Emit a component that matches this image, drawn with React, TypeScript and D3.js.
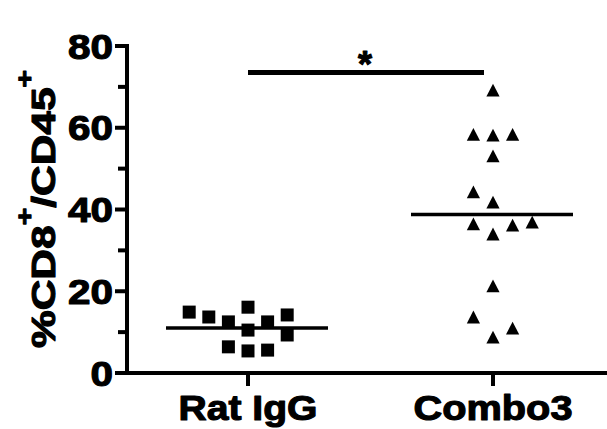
import React from "react";
import * as d3 from "d3";

const categories = ["Rat IgG", "Combo3"];
const ratIgGValues = [14.9, 13.7, 12.5, 16.1, 10.5, 12.5, 14.2, 9.3, 6.4, 5.4, 5.6];
const ratIgGSlots = [-3, -2, -1, 0, 0, 1, 2, 2, -1, 0, 1];
const combo3Values = [69.2, 58.4, 58.2, 58.4, 53.1, 44.3, 41.8, 36.5, 36.2, 36.9, 34.0, 21.3, 13.7, 11.0, 8.8];
const combo3Slots = [0, -1, 0, 1, 0, -1, 0, -1, 1, 2, 0, 0, -1, 1, 0];
const majorTicks = [0, 20, 40, 60, 80];
const minorTicks = [10, 30, 50, 70];
const yLabel = { main1: "%CD8", sup: "+", main2: "/CD45" };
const significance = "*";

const W = 607;
const H = 429;
const FONT = "'Liberation Sans', Arial, Helvetica, sans-serif";

export default function App() {
  const y = d3.scaleLinear().domain([0, 80]).range([373, 46]);
  const x = d3.scalePoint<string>().domain(categories).range([248, 493]);
  const axisX = 127;
  const slotStep = 19.6;

  const triangle = {
    draw(ctx: any, size: number) {
      const w = Math.sqrt(size);
      const h = w * 0.97;
      ctx.moveTo(0, -h / 2);
      ctx.lineTo(w / 2, h / 2);
      ctx.lineTo(-w / 2, h / 2);
      ctx.closePath();
    },
  };
  const triPath = d3.symbol().type(triangle as any).size(13.2 * 13.2)() as string;
  const sqPath = d3.symbol().type(d3.symbolSquare).size(13 * 13)() as string;

  const groups = [
    { cat: categories[0], values: ratIgGValues, slots: ratIgGSlots, path: sqPath },
    { cat: categories[1], values: combo3Values, slots: combo3Slots, path: triPath },
  ];

  const textStyle = { stroke: "#000", strokeWidth: 1.1, strokeLinejoin: "round" as const };

  return (
    <div style={{ position: "absolute", left: 0, top: 0 }}>
      <svg width={W} height={H} style={{ display: "block", background: "#fff" }}>
        <rect x={0} y={0} width={W} height={H} fill="#fff" />
        {/* y axis */}
        <line x1={axisX} x2={axisX} y1={y(80) - 2} y2={y(0)} stroke="#000" strokeWidth={4} />
        {/* x axis */}
        <line x1={115} x2={W} y1={y(0)} y2={y(0)} stroke="#000" strokeWidth={4} />
        {majorTicks.map((t) => (
          <g key={"M" + t}>
            <line x1={115} x2={axisX} y1={y(t)} y2={y(t)} stroke="#000" strokeWidth={4} />
            <text
              x={113}
              y={y(t) + 12.5}
              textAnchor="end"
              fontFamily={FONT}
              fontWeight="bold"
              fontSize={35}
              textLength={String(t).length * 22.5}
              lengthAdjust="spacingAndGlyphs"
              style={textStyle}
            >
              {t}
            </text>
          </g>
        ))}
        {minorTicks.map((t) => (
          <line key={"m" + t} x1={118} x2={axisX} y1={y(t)} y2={y(t)} stroke="#000" strokeWidth={4} />
        ))}
        {categories.map((c, i) => (
          <g key={c}>
            <line x1={x(c)} x2={x(c)} y1={y(0)} y2={386} stroke="#000" strokeWidth={4} />
            <text
              x={x(c)}
              y={420}
              textAnchor="middle"
              fontFamily={FONT}
              fontWeight="bold"
              fontSize={35}
              textLength={i === 0 ? 139 : 159}
              lengthAdjust="spacingAndGlyphs"
              style={textStyle}
            >
              {c}
            </text>
          </g>
        ))}
        {/* y label */}
        <g transform={`translate(55,209) rotate(-90) scale(1.25,1)`}>
          <text textAnchor="middle" fontFamily={FONT} fontWeight="bold" fontSize={34} style={textStyle}>
            <tspan>{yLabel.main1}</tspan>
            <tspan dy={-22} fontSize={24}>{yLabel.sup}</tspan>
            <tspan dy={22}>{yLabel.main2}</tspan>
            <tspan dy={-22} fontSize={24}>{yLabel.sup}</tspan>
          </text>
        </g>
        {/* points */}
        {groups.map((g) => (
          <g key={g.cat}>
            {g.values.map((v, i) => (
              <path
                key={i}
                d={g.path}
                transform={`translate(${(x(g.cat) as number) + g.slots[i] * slotStep},${y(v)})`}
                fill="#000"
              />
            ))}
            <line
              x1={(x(g.cat) as number) - 82}
              x2={(x(g.cat) as number) + 80}
              y1={y(d3.mean(g.values) as number)}
              y2={y(d3.mean(g.values) as number)}
              stroke="#000"
              strokeWidth={3.5}
            />
          </g>
        ))}
        {/* significance */}
        <line x1={x(categories[0])} x2={484} y1={72.5} y2={72.5} stroke="#000" strokeWidth={5} />
        <text x={365} y={77} textAnchor="middle" fontFamily={FONT} fontWeight="bold" fontSize={36} style={textStyle}>
          {significance}
        </text>
      </svg>
    </div>
  );
}
